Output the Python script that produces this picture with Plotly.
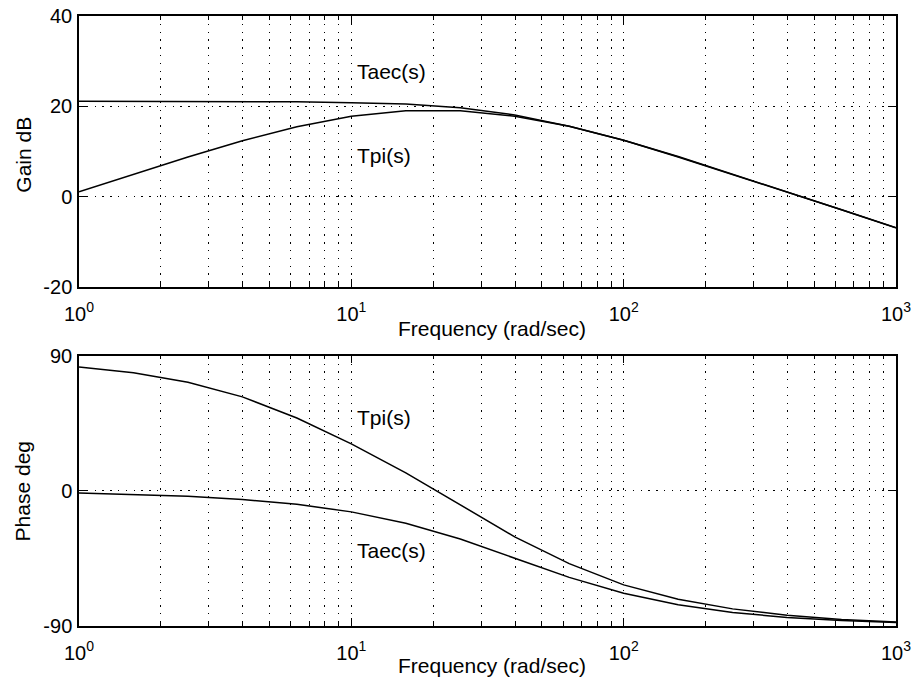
import math
import plotly.graph_objects as go
from plotly.subplots import make_subplots

# ---- data ----
freq = [1, 1.585, 2.512, 3.981, 6.310, 10, 15.85, 25.12, 39.81, 63.10,
        100, 158.5, 251.2, 398.1, 631.0, 1000]
taec_gain = [21.1, 21.1, 21.1, 21.1, 21.0, 20.8, 20.5, 19.7, 18.1, 15.6,
             12.5, 8.8, 4.9, 1.1, -2.9, -6.9]
tpi_gain = [1.1, 5.0, 8.8, 12.4, 15.5, 17.8, 19.0, 19.0, 17.8, 15.6,
            12.5, 8.9, 5.0, 1.1, -2.9, -6.9]
taec_phase = [-1.4, -2.3, -3.6, -5.7, -9.0, -14.0, -21.6, -32.1, -44.9, -57.6,
              -68.2, -75.8, -81.0, -84.3, -86.4, -87.7]
tpi_phase = [82.5, 78.7, 72.3, 62.6, 48.5, 31.3, 12.0, -9.5, -30.6, -48.5,
             -62.6, -72.2, -78.6, -82.9, -85.6, -87.3]

x_tickvals = [1, 10, 100, 1000]
x_ticktext = ["10<sup>0</sup>", "10<sup>1</sup>", "10<sup>2</sup>", "10<sup>3</sup>"]
gain_ticks = [-20, 0, 20, 40]
gain_ticktext = ["-20", "0", "20", "40"]
phase_ticks = [-90, 0, 90]
phase_ticktext = ["-90", "0", "90"]
x_title = "Frequency (rad/sec)"
gain_title = "Gain dB"
phase_title = "Phase deg"

FONT = "Liberation Sans, Arial, Helvetica, sans-serif"
minor_vals = [m * 10 ** d for d in range(3) for m in range(2, 10)]

fig = make_subplots(rows=2, cols=1, vertical_spacing=0.1)
line = dict(color="black", width=1.5)
fig.add_trace(go.Scatter(x=freq, y=taec_gain, mode="lines", line=line, name="Taec(s)"), row=1, col=1)
fig.add_trace(go.Scatter(x=freq, y=tpi_gain, mode="lines", line=line, name="Tpi(s)"), row=1, col=1)
fig.add_trace(go.Scatter(x=freq, y=tpi_phase, mode="lines", line=line, name="Tpi(s)"), row=2, col=1)
fig.add_trace(go.Scatter(x=freq, y=taec_phase, mode="lines", line=line, name="Taec(s)"), row=2, col=1)

DOT = "1.3px,6.5px"
grid = dict(gridcolor="black", gridwidth=1.2, griddash=DOT)
xcommon = dict(type="log", range=[0, 3], tickvals=x_tickvals, ticktext=x_ticktext,
               ticks="inside", ticklen=8, tickcolor="black", tickwidth=1.3,
               showline=True, linecolor="black", linewidth=1.5, mirror="ticks",
               showgrid=True, zeroline=False, ticklabelstandoff=8, automargin=False,
               tickfont=dict(family=FONT, size=20, color="black"),
               minor=dict(tickvals=minor_vals, showgrid=True, gridcolor="black",
                          gridwidth=1.2, griddash=DOT, ticks="inside", ticklen=4,
                          tickcolor="black", tickwidth=1),
               **grid)
ycommon = dict(ticks="inside", ticklen=8, tickcolor="black", tickwidth=1.3,
               showline=True, linecolor="black", linewidth=1.5, mirror="ticks",
               showgrid=True, zeroline=False, ticklabelstandoff=1, automargin=False,
               tickfont=dict(family=FONT, size=20, color="black"), **grid)

fig.update_xaxes(**xcommon)
fig.update_yaxes(**ycommon)
fig.update_yaxes(range=[-20, 40], tickvals=gain_ticks, ticktext=gain_ticktext, row=1, col=1)
fig.update_yaxes(range=[-90, 90], tickvals=phase_ticks, ticktext=phase_ticktext, row=2, col=1)

fig.update_layout(
    width=915, height=682,
    margin=dict(l=79, r=19, t=16, b=56, autoexpand=False),
    paper_bgcolor="white", plot_bgcolor="white",
    showlegend=False,
    font=dict(family=FONT, color="black"),
    xaxis=dict(domain=[0, 1]), xaxis2=dict(domain=[0, 1]),
    yaxis=dict(domain=[0.5557, 1]), yaxis2=dict(domain=[0, 0.4431]),
)

lx = math.log10(10.35)
afont = dict(family=FONT, size=21, color="black")
annots = [
    dict(x=lx, y=27.8, xref="x", yref="y", text="Taec(s)"),
    dict(x=lx, y=9.2, xref="x", yref="y", text="Tpi(s)"),
    dict(x=lx, y=48.9, xref="x2", yref="y2", text="Tpi(s)"),
    dict(x=lx, y=-40.0, xref="x2", yref="y2", text="Taec(s)"),
]
for a in annots:
    fig.add_annotation(**a, showarrow=False, xanchor="left", yanchor="middle", font=afont)

tfont = dict(family=FONT, size=21, color="black")
fig.add_annotation(x=0.505, y=0.487, xref="paper", yref="paper", text=x_title,
                   showarrow=False, xanchor="center", yanchor="middle", font=tfont)
fig.add_annotation(x=0.505, y=-0.064, xref="paper", yref="paper", text=x_title,
                   showarrow=False, xanchor="center", yanchor="middle", font=tfont)
fig.add_annotation(x=-0.069, y=0.772, xref="paper", yref="paper", text=gain_title,
                   showarrow=False, textangle=-90, xanchor="center", yanchor="middle", font=tfont)
fig.add_annotation(x=-0.069, y=0.220, xref="paper", yref="paper", text=phase_title,
                   showarrow=False, textangle=-90, xanchor="center", yanchor="middle", font=tfont)

fig.write_html("out.html", config={"displayModeBar": False},
               post_script="document.body.style.margin='0';document.body.style.overflow='hidden';")
